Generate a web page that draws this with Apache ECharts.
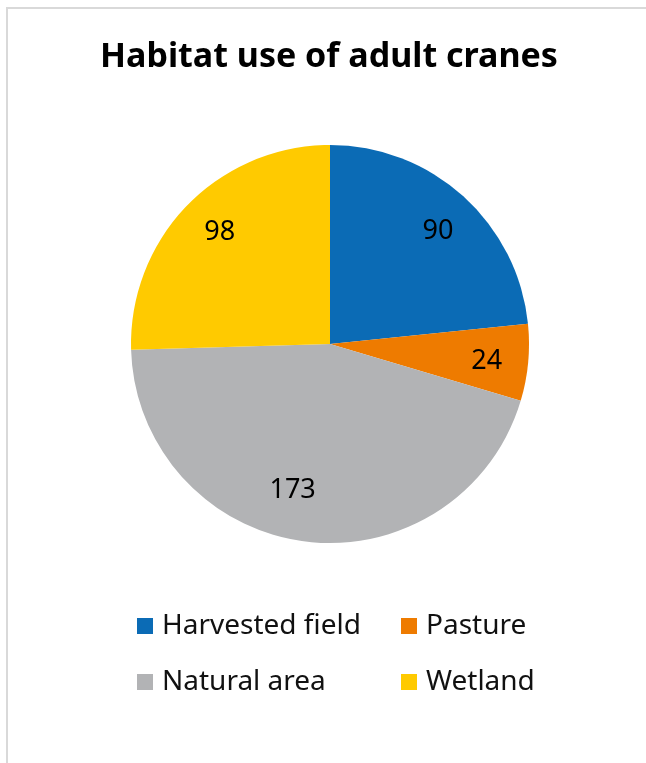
<!DOCTYPE html>
<html lang="en">
<head>
<meta charset="UTF-8">
<title>Habitat use of adult cranes</title>
<script src="https://cdn.jsdelivr.net/npm/echarts@6/dist/echarts.min.js"></script>
<style>
  body { margin: 0; background: #fff; }
</style>
</head>
<body>
<div id="main" style="width: 646px;height:763px;"></div>
<script>
  // data
  var habitats = ['Harvested field', 'Pasture', 'Natural area', 'Wetland'];
  var counts = [90, 24, 173, 98];
  var colors = ['#0B6BB5', '#EE7B00', '#B2B3B5', '#FFCA00'];
  // small nudges so the value labels sit where the original put them
  var labelOffsets = [[3, 3], [1, 3], [-17, -9], [2, -3]];

  var font = 'Noto Sans';
  var pieData = habitats.map(function (name, i) {
    return { name: name, value: counts[i], itemStyle: { color: colors[i] } };
  });

  var legendText = { fontFamily: font, fontSize: 28, color: '#111', padding: [0, 0, 0, 4] };

  var myChart = echarts.init(document.getElementById('main'));
  myChart.setOption({
    animation: false,
    title: {
      text: 'Habitat use of adult cranes',
      left: 324,
      textAlign: 'center',
      top: 35,
      textStyle: { fontFamily: font, fontSize: 34, fontWeight: 'bold', color: '#000' }
    },
    graphic: [{
      type: 'rect',
      shape: { x: 7, y: 8, width: 800, height: 900 },
      style: { fill: 'none', stroke: '#d9d9d9', lineWidth: 2 },
      silent: true
    }],
    legend: [{
      data: ['Harvested field', 'Natural area'],
      orient: 'vertical',
      left: 137, top: 612, padding: 0,
      icon: 'rect', itemWidth: 16, itemHeight: 16, itemGap: 28,
      textStyle: legendText
    }, {
      data: ['Pasture', 'Wetland'],
      orient: 'vertical',
      left: 401, top: 612, padding: 0,
      icon: 'rect', itemWidth: 16, itemHeight: 16, itemGap: 28,
      textStyle: legendText
    }],
    series: [{
      type: 'pie',
      center: [330, 344],
      radius: [0, 199],
      startAngle: 90,
      silent: true,
      label: { show: false },
      labelLine: { show: false },
      data: pieData
    }, {
      // transparent ring, only used to place the value labels farther out
      type: 'pie',
      center: [330, 344],
      radius: [108, 199],
      startAngle: 90,
      silent: true,
      itemStyle: { color: 'rgba(0,0,0,0)' },
      label: {
        show: true, position: 'inside', formatter: '{c}',
        fontFamily: font, fontSize: 27, color: '#000'
      },
      labelLine: { show: false },
      data: habitats.map(function (name, i) {
        return { name: name, value: counts[i], label: { offset: labelOffsets[i] } };
      })
    }]
  });
</script>
</body>
</html>
